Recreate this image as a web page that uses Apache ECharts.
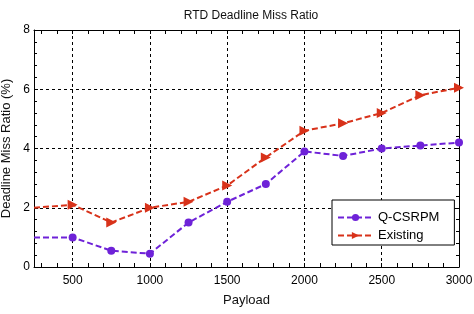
<!DOCTYPE html>
<html>
<head>
<meta charset="utf-8">
<script src="https://cdn.jsdelivr.net/npm/echarts@6/dist/echarts.min.js"></script>
<style>
  html, body { margin: 0; padding: 0; background: #fff; }
  #chart { width: 474px; height: 314px; }
</style>
</head>
<body>
<div id="chart"></div>
<script>
// values
const payload = [250, 500, 750, 1000, 1250, 1500, 1750, 2000, 2250, 2500, 2750, 3000];
const qcsrpm = [1.0, 1.0, 0.55, 0.45, 1.5, 2.2, 2.8, 3.9, 3.75, 4.0, 4.1, 4.2];
const existing = [2.0, 2.1, 1.5, 2.0, 2.2, 2.75, 3.7, 4.6, 4.85, 5.2, 5.8, 6.05];
const xLabels = [500, 1000, 1500, 2000, 2500, 3000];
const xMinor = [300, 400, 500, 600, 700, 800, 900, 1000, 1100, 1200, 1300, 1400, 1500,
  1600, 1700, 1800, 1900, 2000, 2100, 2200, 2300, 2400, 2500, 2600, 2700, 2800, 2900, 3000];

const font = "'Liberation Sans', Arial, sans-serif";

const chart = echarts.init(document.getElementById("chart"));

// first point sits on the left border, MATLAB clips its marker
const toPoints = vals => vals.map((v, i) =>
  i === 0 ? { value: [payload[i], v], symbol: "none" } : [payload[i], v]);

const xCommon = {
  type: "value",
  min: 250,
  max: 3000,
  interval: 250,
  axisLine: { show: true, onZero: false, lineStyle: { color: "#000", width: 1 } },
  axisTick: { show: true, inside: true, length: 4, customValues: xMinor, lineStyle: { color: "#000" } },
  splitLine: { show: false },
};

const yCommon = {
  type: "value",
  min: 0,
  max: 8,
  interval: 2,
  axisLine: { show: true, onZero: false, lineStyle: { color: "#000", width: 1 } },
  axisTick: { show: true, inside: true, length: 4, lineStyle: { color: "#000" } },
  minorTick: { show: true, splitNumber: 5, length: 3, lineStyle: { color: "#000" } },
};

const option = {
  animation: false,
  backgroundColor: "#fff",
  textStyle: { fontFamily: font },
  title: {
    text: "RTD Deadline Miss Ratio",
    left: 246,
    textAlign: "center",
    top: 5,
    textStyle: { fontFamily: font, fontSize: 12, fontWeight: "normal", color: "#111" },
  },
  grid: { left: 34, right: 15, top: 30, bottom: 47, show: false, outerBoundsMode: "none", containLabel: false },
  legend: {
    orient: "vertical",
    left: 332,
    top: 200,
    padding: [11, 15, 3, 5],
    itemGap: 5,
    itemWidth: 35,
    itemHeight: 9,
    itemTextGap: 10,
    backgroundColor: "#fff",
    borderColor: "#000",
    borderWidth: 1,
    borderRadius: 0,
    textStyle: { fontFamily: font, fontSize: 13, color: "#000" },
    data: ["Q-CSRPM", "Existing"],
  },
  xAxis: [
    Object.assign({}, xCommon, {
      position: "bottom",
      name: "Payload",
      nameLocation: "middle",
      nameGap: 27,
      nameTextStyle: { fontFamily: font, fontSize: 13, color: "#111" },
      // scale ticks every 250, only multiples of 500 carry a label
      axisLabel: {
        margin: 8, fontFamily: font, fontSize: 12, color: "#000",
        formatter: v => (v % 500 === 0 ? String(v) : ""),
      },
    }),
    Object.assign({}, xCommon, {
      position: "top",
      axisLabel: { show: false },
    }),
  ],
  yAxis: [
    Object.assign({}, yCommon, {
      position: "left",
      name: "Deadline Miss Ratio (%)",
      nameLocation: "middle",
      nameGap: 16,
      nameTextStyle: { fontFamily: font, fontSize: 13, color: "#111" },
      axisLabel: { margin: 4, fontFamily: font, fontSize: 12, color: "#000" },
      splitLine: { show: true, lineStyle: { color: "#000", type: [3, 3], width: 1 } },
    }),
    Object.assign({}, yCommon, {
      position: "right",
      axisLabel: { show: false },
      splitLine: { show: false },
    }),
  ],
  series: [
    {
      name: "Q-CSRPM",
      type: "line",
      data: toPoints(qcsrpm),
      symbol: "circle",
      symbolSize: 8,
      color: "#6e22d8",
      lineStyle: { width: 2, type: [6, 3], color: "#6e22d8" },
      itemStyle: { color: "#6e22d8" },
      z: 3,
      // vertical dashed grid lines at labelled payload values
      markLine: {
        silent: true,
        symbol: "none",
        label: { show: false },
        lineStyle: { color: "#000", type: [3, 3], width: 1 },
        data: xLabels.map(v => ({ xAxis: v })),
        z: 1,
      },
    },
    {
      name: "Existing",
      type: "line",
      data: toPoints(existing),
      symbol: "triangle",
      symbolRotate: -90,
      symbolSize: 10,
      color: "#d8321a",
      lineStyle: { width: 2, type: [6, 3], color: "#d8321a" },
      itemStyle: { color: "#d8321a" },
      z: 4,
    },
  ],
};

chart.setOption(option);
</script>
</body>
</html>
